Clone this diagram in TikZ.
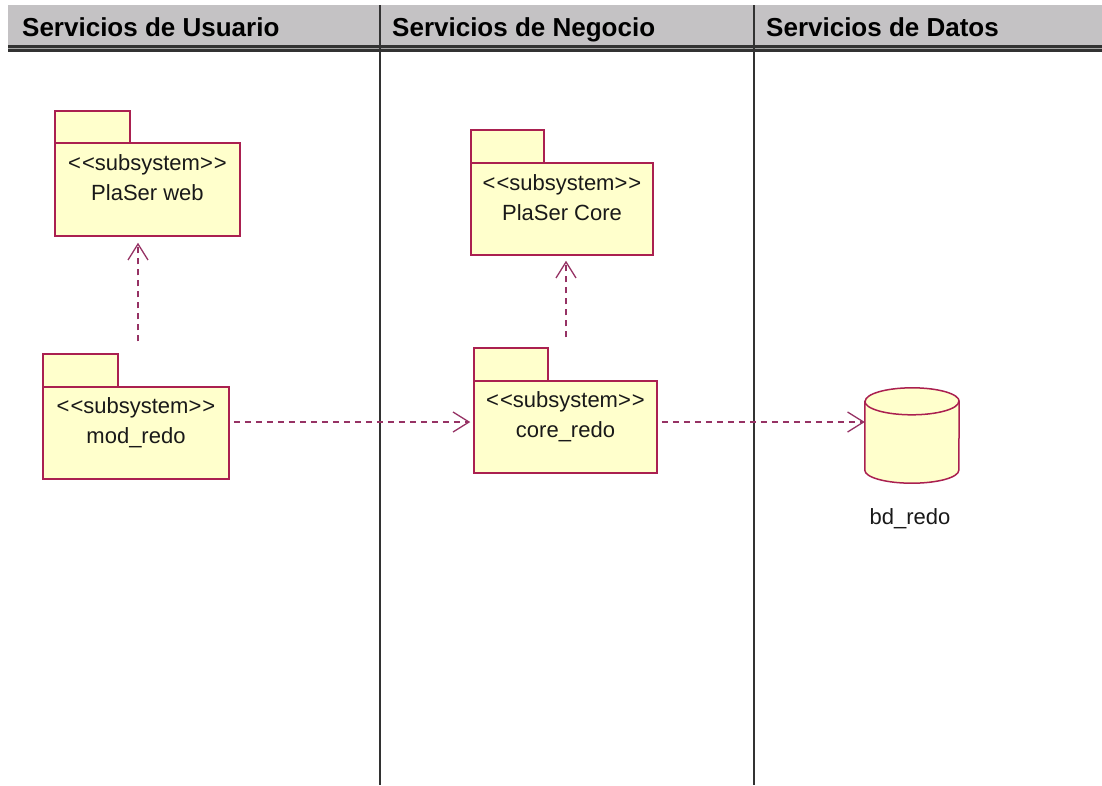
\documentclass[tikz,border=0pt]{standalone}
\usepackage{fontspec}
\setmainfont[Ligatures=NoCommon]{Liberation Sans}
\usetikzlibrary{arrows.meta}
\definecolor{pkgline}{RGB}{170,32,80}
\definecolor{pkgfill}{RGB}{255,255,204}
\definecolor{depline}{RGB}{150,50,100}
\definecolor{hdrgray}{RGB}{196,194,196}
\definecolor{divline}{RGB}{50,50,50}
\newcommand{\stereo}{{<}\kern1pt{<}subsystem{>}\kern1pt{>}}
\tikzset{
  pkgbody/.style={draw=pkgline, fill=pkgfill, line width=1.5pt, rectangle, inner sep=0pt},
  pkgtab/.style={draw=pkgline, fill=pkgfill, line width=1.5pt, rectangle, inner sep=0pt},
  pkgtext/.style={anchor=north, align=center, font=\fontsize{22}{30}\selectfont, inner sep=0pt, text=black!90},
  dep/.style={draw=depline, line width=1.3pt, dash pattern=on 6pt off 5pt,
    -{Straight Barb[length=16pt,width=20pt,line width=1.3pt]}},
  hdrtext/.style={anchor=base west, font=\fontsize{26}{30}\selectfont\bfseries, inner sep=0pt},
}
\begin{document}
\begin{tikzpicture}[x=1pt,y=-1pt]
\useasboundingbox (0,0) rectangle (1102,785);
\fill[white] (0,0) rectangle (1102,785);
% header band
\fill[hdrgray] (8,5) rectangle (1102,45);
\fill[divline] (8,45) rectangle (1102,52);
\draw[gray!70, line width=1.2pt] (8,48.5) -- (1102,48.5);
\node[hdrtext] (h1) at (22,36) {Servicios de Usuario};
\node[hdrtext] (h2) at (392,36) {Servicios de Negocio};
\node[hdrtext] (h3) at (766,36) {Servicios de Datos};
% dividers
\draw[divline, line width=2pt] (379.5,5) -- (379.5,785);
\draw[divline, line width=2pt] (753.5,5) -- (753.5,785);

% PlaSer web
\node[pkgtab, minimum width=75pt, minimum height=32pt] (webtab) at (92.5,127) {};
\node[pkgbody, minimum width=185pt, minimum height=93pt] (web) at (147.5,189.5) {};
\node[pkgtext] (webtxt) at (147.5,154) {\stereo\\PlaSer web};

% mod_redo
\node[pkgtab, minimum width=75pt, minimum height=33pt] (modtab) at (80.5,370.5) {};
\node[pkgbody, minimum width=186pt, minimum height=92pt] (mod) at (136,433) {};
\node[pkgtext] (modtxt) at (136,397) {\stereo\\mod\_redo};

% PlaSer Core
\node[pkgtab, minimum width=73pt, minimum height=33pt] (coretab) at (507.5,146.5) {};
\node[pkgbody, minimum width=182pt, minimum height=92pt] (plcore) at (562,209) {};
\node[pkgtext] (coretxt) at (562,174) {\stereo\\PlaSer Core};

% core_redo
\node[pkgtab, minimum width=74pt, minimum height=33pt] (credotab) at (511,364.5) {};
\node[pkgbody, minimum width=183pt, minimum height=92pt] (credo) at (565.5,427) {};
\node[pkgtext] (credotxt) at (565.5,391) {\stereo\\core\_redo};

% database
\node[minimum width=94pt, minimum height=95pt, inner sep=0pt] (db) at (912,435.5) {};
\filldraw[draw=pkgline, fill=pkgfill, line width=1.5pt]
  ([yshift=-13.5pt]db.north west) -- ([yshift=13pt]db.south west)
  arc[start angle=180, end angle=360, x radius=47pt, y radius=13pt]
  -- ([yshift=-13.5pt]db.north east)
  arc[start angle=0, end angle=180, x radius=47pt, y radius=13.5pt] -- cycle;
\draw[pkgline, line width=1.5pt] ([yshift=-13.5pt]db.north west)
  arc[start angle=180, end angle=360, x radius=47pt, y radius=13.5pt];
\node[font=\fontsize{22}{28}\selectfont, inner sep=0pt, text=black!90] (dblbl) at (910,519) {bd\_redo};

% dependencies
\draw[dep] ([xshift=4pt,yshift=11pt]mod.east) -- ([xshift=-3pt,yshift=5pt]credo.west);
\draw[dep] ([xshift=4pt,yshift=5pt]credo.east) -- ([yshift=13.5pt]db.west);
\draw[dep] ([xshift=2pt,yshift=45pt]mod.north) -- ([xshift=-9.5pt,yshift=-6pt]web.south);
\draw[dep] ([xshift=0.5pt,yshift=43pt]credo.north) -- ([xshift=4pt,yshift=-5pt]plcore.south);
\end{tikzpicture}
\end{document}
